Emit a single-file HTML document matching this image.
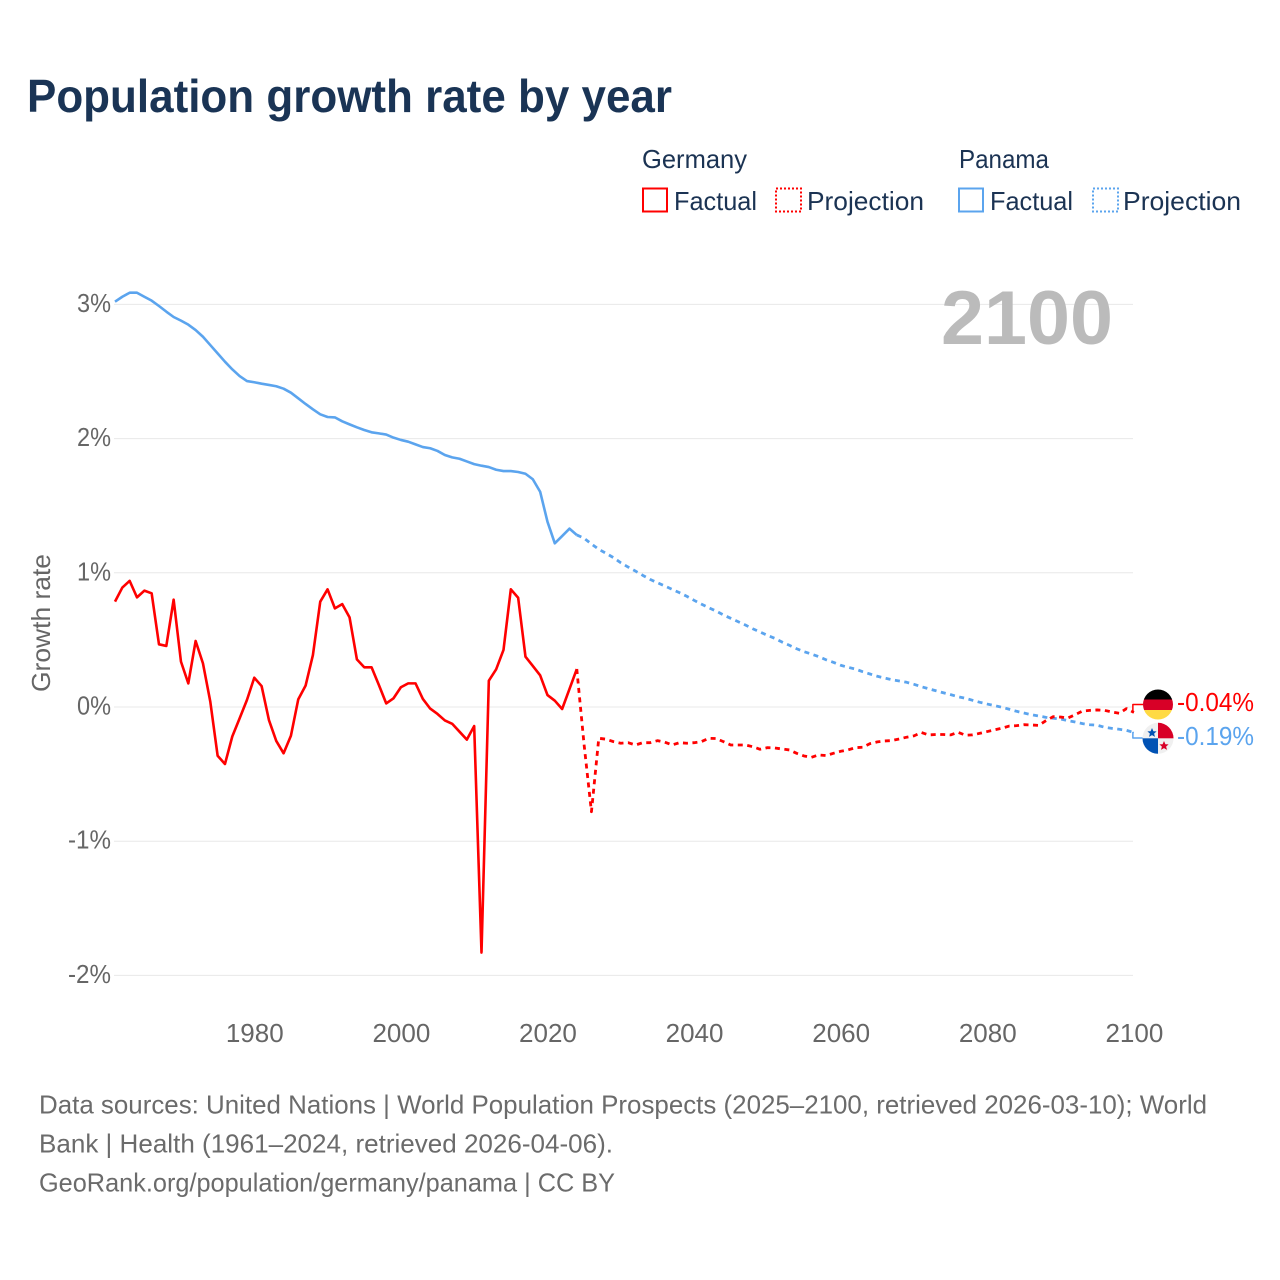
<!DOCTYPE html>
<html lang="en">
<head>
<meta charset="utf-8">
<title>Population growth rate by year</title>
<style>
html,body{margin:0;padding:0;background:#fff;width:1280px;height:1280px;overflow:hidden}
svg{display:block;font-family:"Liberation Sans",sans-serif}
</style>
</head>
<body>
<svg id="chart" width="1280" height="1280" viewBox="0 0 1280 1280" xmlns="http://www.w3.org/2000/svg">
  <rect width="1280" height="1280" fill="#fff"/>
  <text x="27" y="112" font-size="46" font-weight="700" fill="#1a3455" textLength="645" lengthAdjust="spacingAndGlyphs">Population growth rate by year</text>

  <g font-size="26" fill="#1b3353">
    <text x="642" y="168" textLength="105" lengthAdjust="spacingAndGlyphs">Germany</text>
    <text x="959" y="168" textLength="90" lengthAdjust="spacingAndGlyphs">Panama</text>
    <rect x="643" y="188.5" width="24" height="23" fill="none" stroke="#ff0000" stroke-width="2"/>
    <text x="674" y="210" textLength="83" lengthAdjust="spacingAndGlyphs">Factual</text>
    <rect x="776" y="188.5" width="25" height="23" fill="none" stroke="#ff0000" stroke-width="2" stroke-dasharray="2 2"/>
    <text x="807" y="210" textLength="117" lengthAdjust="spacingAndGlyphs">Projection</text>
    <rect x="959" y="188.5" width="24" height="23" fill="none" stroke="#5ba4ee" stroke-width="2"/>
    <text x="990" y="210" textLength="83" lengthAdjust="spacingAndGlyphs">Factual</text>
    <rect x="1093" y="188.5" width="25" height="23" fill="none" stroke="#5ba4ee" stroke-width="2" stroke-dasharray="2 2"/>
    <text x="1123" y="210" textLength="118" lengthAdjust="spacingAndGlyphs">Projection</text>
  </g>

  <g id="grid"></g>
  <g id="yticks"></g>
  <g id="xticks"></g>

  <text x="941" y="344" font-size="76" font-weight="700" fill="#bbbbbb" textLength="172" lengthAdjust="spacingAndGlyphs">2100</text>
  <text transform="translate(50,692) rotate(-90)" font-size="26" fill="#666666" textLength="138" lengthAdjust="spacingAndGlyphs">Growth rate</text>

  <g id="series"></g>

  <g>
    <clipPath id="clipDe"><circle cx="1158" cy="704.5" r="15"/></clipPath>
    <g clip-path="url(#clipDe)">
      <rect x="1143" y="689" width="30" height="10.5" fill="#000000"/>
      <rect x="1143" y="699.5" width="30" height="10.5" fill="#d80027"/>
      <rect x="1143" y="710" width="30" height="10" fill="#ffda44"/>
    </g>
  </g>
  <g>
    <clipPath id="clipPa"><circle cx="1158" cy="738.3" r="15.5"/></clipPath>
    <g clip-path="url(#clipPa)">
      <rect x="1142" y="722" width="32" height="33" fill="#f0f0f0"/>
      <rect x="1158" y="722" width="16" height="16.3" fill="#d80027"/>
      <rect x="1142" y="738.3" width="16" height="17" fill="#0052b4"/>
      <polygon points="1152,728 1153.4,731.2 1156.6,731.4 1154.1,733.6 1155,736.9 1152,735.1 1149,736.9 1149.9,733.6 1147.4,731.4 1150.6,731.2" fill="#0052b4"/>
      <polygon points="1164,741 1165.4,744.2 1168.6,744.4 1166.1,746.6 1167,749.9 1164,748.1 1161,749.9 1161.9,746.6 1159.4,744.4 1162.6,744.2" fill="#d80027"/>
    </g>
  </g>
  <text x="1177" y="711" font-size="26" fill="#ff0000" textLength="77" lengthAdjust="spacingAndGlyphs">-0.04%</text>
  <text x="1177" y="745" font-size="26" fill="#5ba4ee" textLength="77" lengthAdjust="spacingAndGlyphs">-0.19%</text>

  <g font-size="26" fill="#6b6b6b">
    <text x="39" y="1113.5" textLength="1168" lengthAdjust="spacingAndGlyphs">Data sources: United Nations | World Population Prospects (2025–2100, retrieved 2026-03-10); World</text>
    <text x="39" y="1152.5" textLength="574" lengthAdjust="spacingAndGlyphs">Bank | Health (1961–2024, retrieved 2026-04-06).</text>
    <text x="39" y="1191.5" textLength="576" lengthAdjust="spacingAndGlyphs">GeoRank.org/population/germany/panama | CC BY</text>
  </g>
</svg>
<script>
const factualStartYear = 1961;
const projectionStartYear = 2024;
const yTickValues = [3, 2, 1, 0, -1, -2];
const yTickLabels = ['3%', '2%', '1%', '0%', '-1%', '-2%'];
const xTickValues = [1980, 2000, 2020, 2040, 2060, 2080, 2100];
const xTickLabels = ['1980', '2000', '2020', '2040', '2060', '2080', '2100'];

const germanyFactual = [
  0.785, 0.89, 0.94, 0.817, 0.867, 0.847, 0.467, 0.455, 0.80, 0.338,
  0.176, 0.492, 0.325, 0.04, -0.363, -0.425, -0.22, -0.085, 0.052, 0.218,
  0.156, -0.097, -0.253, -0.345, -0.214, 0.057, 0.159, 0.387, 0.785, 0.877,
  0.735, 0.767, 0.668, 0.355, 0.296, 0.296, 0.164, 0.027, 0.065, 0.147,
  0.176, 0.176, 0.06, -0.012, -0.052, -0.10, -0.125, -0.184, -0.243, -0.142,
  -1.83, 0.196, 0.281, 0.425, 0.877, 0.814, 0.375, 0.306, 0.236, 0.089,
  0.047, -0.015, 0.134, 0.283
];
const germanyProjection = [
  0.283, -0.283, -0.78, -0.233, -0.24, -0.258, -0.27, -0.266, -0.283, -0.266,
  -0.266, -0.251, -0.262, -0.283, -0.266, -0.27, -0.266, -0.258, -0.233, -0.235,
  -0.258, -0.283, -0.283, -0.283, -0.296, -0.315, -0.303, -0.305, -0.313, -0.32,
  -0.345, -0.365, -0.375, -0.357, -0.362, -0.345, -0.33, -0.32, -0.303, -0.30,
  -0.273, -0.26, -0.253, -0.25, -0.238, -0.225, -0.215, -0.19, -0.208, -0.205,
  -0.205, -0.208, -0.188, -0.21, -0.208, -0.196, -0.183, -0.17, -0.158, -0.142,
  -0.139, -0.132, -0.134, -0.137, -0.102, -0.072, -0.075, -0.082, -0.057, -0.03,
  -0.025, -0.022, -0.025, -0.037, -0.047, -0.012, -0.04
];
const panamaFactual = [
  3.02, 3.057, 3.087, 3.087, 3.057, 3.028, 2.988, 2.946, 2.906, 2.879,
  2.849, 2.809, 2.759, 2.697, 2.635, 2.573, 2.516, 2.466, 2.429, 2.42,
  2.409, 2.40, 2.39, 2.372, 2.342, 2.30, 2.258, 2.218, 2.181, 2.161,
  2.158, 2.129, 2.106, 2.084, 2.064, 2.047, 2.039, 2.03, 2.007, 1.99,
  1.977, 1.957, 1.937, 1.928, 1.908, 1.878, 1.86, 1.85, 1.83, 1.81,
  1.798, 1.788, 1.768, 1.758, 1.758, 1.751, 1.738, 1.697, 1.604, 1.381,
  1.22, 1.274, 1.329, 1.282
];
const panamaProjection = [
  1.282, 1.257, 1.215, 1.175, 1.145, 1.113, 1.075, 1.043, 1.013, 0.981,
  0.951, 0.926, 0.902, 0.877, 0.852, 0.825, 0.795, 0.767, 0.74, 0.715,
  0.686, 0.661, 0.636, 0.611, 0.583, 0.559, 0.534, 0.512, 0.484, 0.46,
  0.434, 0.412, 0.395, 0.375, 0.352, 0.333, 0.311, 0.296, 0.283, 0.263,
  0.246, 0.229, 0.216, 0.203, 0.194, 0.184, 0.169, 0.151, 0.136, 0.121,
  0.106, 0.092, 0.077, 0.065, 0.05, 0.035, 0.022, 0.01, -0.002, -0.017,
  -0.032, -0.045, -0.057, -0.067, -0.077, -0.084, -0.089, -0.102, -0.112, -0.124,
  -0.132, -0.136, -0.151, -0.159, -0.166, -0.174, -0.19
];

const NS = 'http://www.w3.org/2000/svg';
const RED = '#ff0000';
const BLUE = '#5ba4ee';
function xScale(year) { return 115 + (year - 1961) * 7.33; }
function yScale(value) { return 707 - value * 134.2; }

const gridGroup = document.getElementById('grid');
const yTickGroup = document.getElementById('yticks');
const xTickGroup = document.getElementById('xticks');
const seriesGroup = document.getElementById('series');

yTickValues.forEach(function (v, i) {
  const line = document.createElementNS(NS, 'line');
  
  
  line.setAttribute('x1', 114);
  line.setAttribute('x2', 1133);
  line.setAttribute('y1', yScale(v));
  line.setAttribute('y2', yScale(v));
  line.setAttribute('stroke', '#e8e8e8');
  line.setAttribute('stroke-width', 1);
  gridGroup.appendChild(line);

  const label = document.createElementNS(NS, 'text');
  
  
  const w = yTickLabels[i].length === 3 ? 43 : 34;
  label.setAttribute('x', 111 - w);
  label.setAttribute('y', yScale(v) + 7.5);
  label.setAttribute('font-size', 26);
  label.setAttribute('fill', '#666666');
  label.setAttribute('textLength', w);
  label.setAttribute('lengthAdjust', 'spacingAndGlyphs');
  label.textContent = yTickLabels[i];
  yTickGroup.appendChild(label);
});

xTickValues.forEach(function (yr, i) {
  const label = document.createElementNS(NS, 'text');
  
  
  label.setAttribute('x', xScale(yr) + 0.5);
  label.setAttribute('y', 1042);
  label.setAttribute('font-size', 26);
  label.setAttribute('fill', '#666666');
  label.setAttribute('text-anchor', 'middle');
  label.textContent = xTickLabels[i];
  xTickGroup.appendChild(label);
});

function linePath(values, startYear) {
  return values.map(function (v, i) {
    return (i ? 'L' : 'M') + xScale(startYear + i).toFixed(2) + ' ' + yScale(v).toFixed(2);
  }).join(' ');
}

function addLine(name, d, color, dash, width) {
  const p = document.createElementNS(NS, 'path');
  
  
  p.setAttribute('d', d);
  p.setAttribute('fill', 'none');
  p.setAttribute('stroke', color);
  p.setAttribute('stroke-width', width);
  p.setAttribute('stroke-linejoin', 'round');
  if (dash) p.setAttribute('stroke-dasharray', dash);
  seriesGroup.appendChild(p);
}

addLine('panama-factual-line', linePath(panamaFactual, factualStartYear), BLUE, null, 2.6);
addLine('panama-projection-line', linePath(panamaProjection, projectionStartYear), BLUE, '5 4.5', 2.8);
addLine('germany-factual-line', linePath(germanyFactual, factualStartYear), RED, null, 2.6);
addLine('germany-projection-line', linePath(germanyProjection, projectionStartYear), RED, '5 4.5', 2.8);

const endX = xScale(2100);
const germanyEndY = yScale(germanyProjection[germanyProjection.length - 1]);
const panamaEndY = yScale(panamaProjection[panamaProjection.length - 1]);
addLine('germany-end-connector', 'M' + endX + ' ' + germanyEndY + ' L' + (endX - 1) + ' ' + germanyEndY + ' L' + (endX - 1) + ' 704.5 L1143 704.5', RED, null, 1.5);
addLine('panama-end-connector', 'M' + endX + ' ' + panamaEndY + ' L' + (endX - 1) + ' ' + panamaEndY + ' L' + (endX - 1) + ' 738 L1143 738', BLUE, null, 1.5);
</script>
</body>
</html>
